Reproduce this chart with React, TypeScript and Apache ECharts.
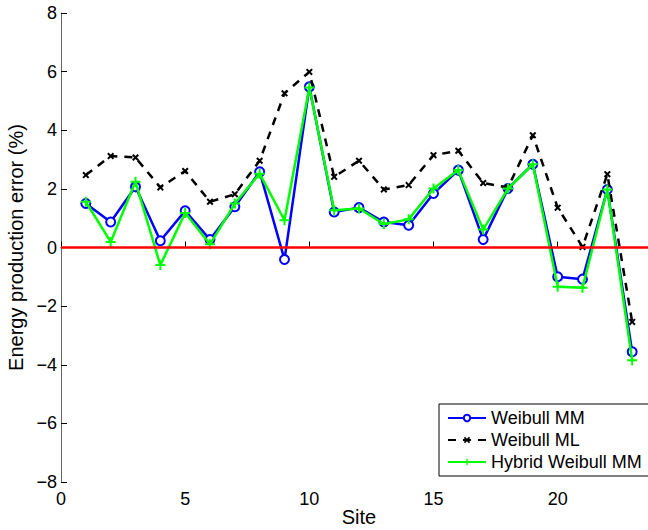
import React, { useEffect, useRef } from "react";
import * as echarts from "echarts";

const sites = [1, 2, 3, 4, 5, 6, 7, 8, 9, 10, 11, 12, 13, 14, 15, 16, 17, 18, 19, 20, 21, 22, 23];
const weibullMM = [1.50, 0.87, 2.07, 0.23, 1.25, 0.27, 1.39, 2.58, -0.41, 5.48, 1.21, 1.36, 0.87, 0.76, 1.84, 2.64, 0.27, 2.01, 2.84, -1.00, -1.08, 1.98, -3.56];
const weibullML = [2.47, 3.12, 3.07, 2.05, 2.61, 1.56, 1.82, 2.96, 5.26, 5.99, 2.41, 2.96, 1.98, 2.13, 3.15, 3.30, 2.20, 2.05, 3.83, 1.36, 0.02, 2.50, -2.54];
const hybridMM = [1.56, 0.19, 2.24, -0.60, 1.18, 0.11, 1.50, 2.52, 0.93, 5.46, 1.27, 1.33, 0.80, 0.96, 2.01, 2.64, 0.61, 2.01, 2.84, -1.34, -1.37, 1.98, -3.85];
const zeroLine = [[0, 0], [24, 0]];

const FONT = "Liberation Sans, Arial, Helvetica, sans-serif";
const X_SYMBOL = "path://M0,2L2,0L5,3L8,0L10,2L7,5L10,8L8,10L5,7L2,10L0,8L3,5Z";
const PLUS_SYMBOL = "path://M4,0H6V4H10V6H6V10H4V6H0V4H4Z";

export default function App() {
  const ref = useRef<HTMLDivElement>(null);
  useEffect(() => {
    if (!ref.current) return;
    const chart = echarts.init(ref.current, undefined, { renderer: "svg" });
    const pair = (ys: number[]) => sites.map((s, i) => [s, ys[i]]);
    chart.setOption({
      animation: false,
      backgroundColor: "#fff",
      textStyle: { fontFamily: FONT },
      grid: { left: 61, top: 13, bottom: 48, right: -9, containLabel: false, outerBoundsMode: "none" },
      legend: {
        data: ["Weibull MM", "Weibull ML", "Hybrid Weibull MM"],
        orient: "vertical",
        left: 439,
        top: 404,
        borderColor: "#000",
        borderWidth: 1,
        backgroundColor: "#fff",
        borderRadius: 0,
        padding: [5, 20, 5, 8],
        itemGap: 4,
        itemWidth: 38,
        itemHeight: 8,
        textStyle: { fontSize: 18, color: "#000", fontFamily: FONT },
      },
      graphic: [
        {
          type: "text",
          x: 359,
          y: 517,
          silent: true,
          style: {
            text: "Site",
            fontSize: 20,
            fontFamily: FONT,
            fill: "#000",
            align: "center",
            verticalAlign: "middle",
          },
        },
      ],
      xAxis: {
        type: "value",
        min: 0,
        max: 24,
        interval: 5,
        axisLine: { lineStyle: { color: "#000", width: 1 } },
        axisTick: { inside: true, length: 6, lineStyle: { color: "#000" } },
        axisLabel: {
          fontSize: 18,
          color: "#000",
          margin: 8,
          fontFamily: FONT,
          formatter: (v: number) => (v % 5 === 0 ? String(v) : ""),
        },
        splitLine: { show: false },
      },
      yAxis: {
        type: "value",
        min: -8,
        max: 8,
        interval: 2,
        name: "Energy production error (%)",
        nameLocation: "middle",
        nameGap: 33,
        nameTextStyle: { fontSize: 20, color: "#000", fontFamily: FONT },
        axisLine: { show: true, lineStyle: { color: "#666", width: 1 } },
        axisTick: { show: true, inside: true, length: 6, lineStyle: { color: "#000" } },
        axisLabel: {
          fontSize: 18,
          color: "#000",
          margin: 4,
          fontFamily: FONT,
          formatter: (v: number) => String(v).replace("-", "\u2212"),
        },
        splitLine: { show: false },
      },
      series: [
        {
          name: "Weibull MM",
          type: "line",
          data: pair(weibullMM),
          symbol: "emptyCircle",
          symbolSize: 9,
          lineStyle: { color: "#0000ff", width: 2.5 },
          itemStyle: { color: "#0000ff", borderColor: "#0000ff", borderWidth: 2 },
          z: 2,
        },
        {
          name: "Weibull ML",
          type: "line",
          data: pair(weibullML),
          symbol: X_SYMBOL,
          symbolSize: 7,
          lineStyle: { color: "#000", width: 2.5, type: [8, 7] },
          itemStyle: { color: "#000" },
          z: 3,
        },
        {
          name: "Hybrid Weibull MM",
          type: "line",
          data: pair(hybridMM),
          symbol: PLUS_SYMBOL,
          symbolSize: 10,
          lineStyle: { color: "#00ff00", width: 2.5 },
          itemStyle: { color: "#00ff00" },
          z: 4,
        },
        {
          name: "zero",
          type: "line",
          data: zeroLine,
          symbol: "none",
          silent: true,
          lineStyle: { color: "#ff0000", width: 2.5 },
          z: 5,
        },
      ],
    });
    return () => chart.dispose();
  }, []);
  return (
    <div
      ref={ref}
      style={{ position: "fixed", left: 0, top: 0, width: 648, height: 530, background: "#fff" }}
    />
  );
}
